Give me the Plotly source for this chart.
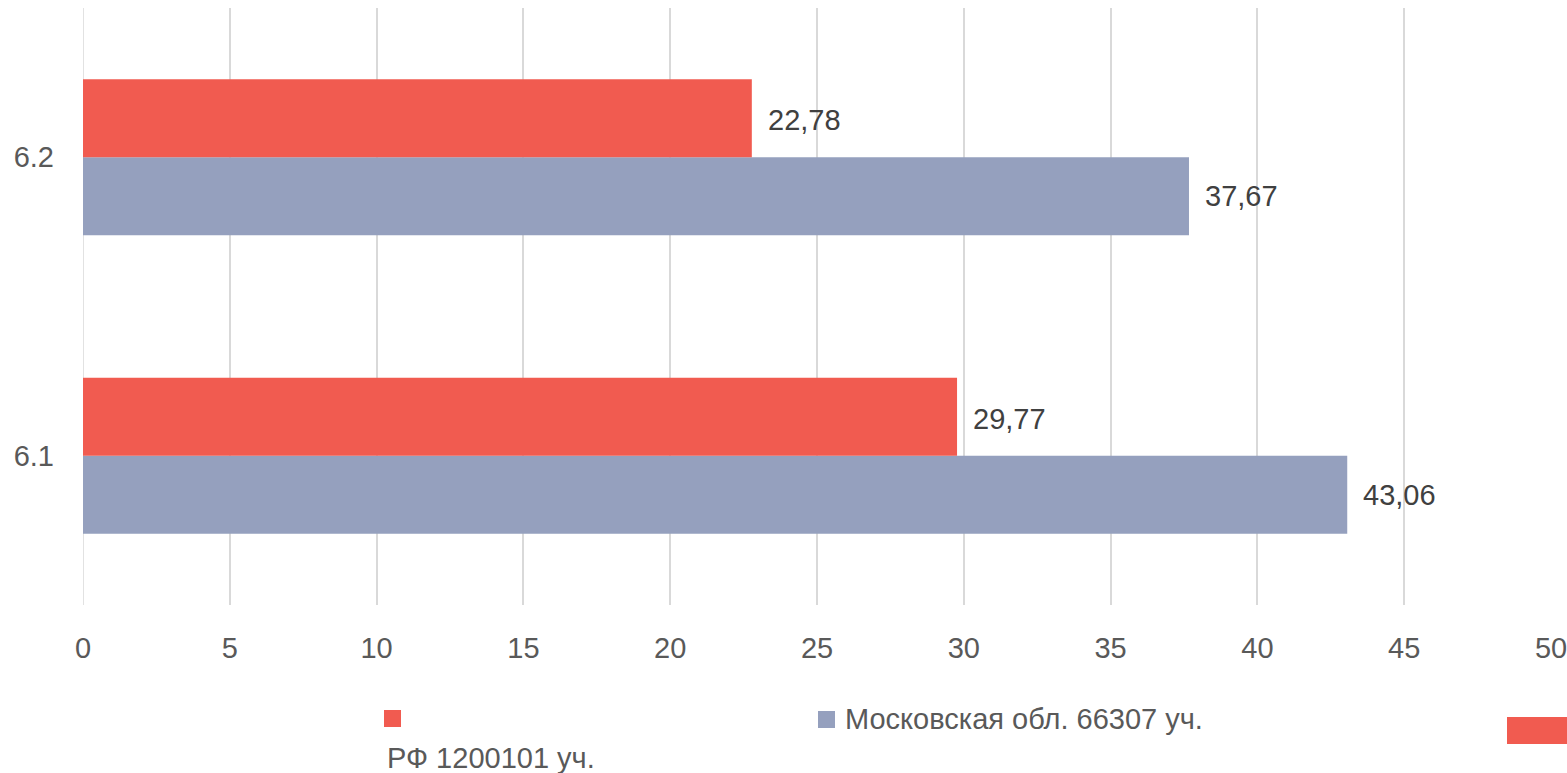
import plotly.graph_objects as go

categories = ["6.1", "6.2"]
rf_name = "РФ 1200101 уч."
mo_name = "Московская обл. 66307 уч."
rf_values = [29.77, 22.78]
mo_values = [43.06, 37.67]
x_ticks = [0, 5, 10, 15, 20, 25, 30, 35, 40, 45, 50]

RED = "#F15B50"
BLUE = "#95A0BE"
FONT = "Liberation Sans Narrow, Arial Narrow, sans-serif"

fig = go.Figure()
# first trace is drawn at the bottom of each group in horizontal mode
fig.add_trace(go.Bar(y=categories, x=mo_values, name=mo_name, orientation="h",
                     marker=dict(color=BLUE, line=dict(width=0)), showlegend=False))
fig.add_trace(go.Bar(y=categories, x=rf_values, name=rf_name, orientation="h",
                     marker=dict(color=RED, line=dict(width=0)), showlegend=False))

def fmt(v):
    return f"{v:.2f}".replace(".", ",")

annotations = []
for i, v in enumerate(rf_values):
    annotations.append(dict(x=v, y=i, xref="x", yref="y", text=fmt(v), showarrow=False,
                            xanchor="left", yanchor="middle", xshift=14, yshift=37,
                            font=dict(size=29, color="#404040", family=FONT)))
for i, v in enumerate(mo_values):
    annotations.append(dict(x=v, y=i, xref="x", yref="y", text=fmt(v), showarrow=False,
                            xanchor="left", yanchor="middle", xshift=14, yshift=-39,
                            font=dict(size=29, color="#404040", family=FONT)))

# plot area on screen: x 83..1551, y 8..605
def px(sx):
    return (sx - 83) / 1468

def py(sy):
    return (605 - sy) / 597

legend_font = dict(size=29, color="#595959", family=FONT)
annotations.append(dict(xref="paper", yref="paper", x=px(385), y=py(758),
                        text=rf_name, showarrow=False, xanchor="left", yanchor="middle", font=legend_font))
annotations.append(dict(xref="paper", yref="paper", x=px(843), y=py(719),
                        text=mo_name, showarrow=False, xanchor="left", yanchor="middle", font=legend_font))

shapes = [
    dict(type="rect", xref="paper", yref="paper", x0=px(384), x1=px(401),
         y0=py(727), y1=py(710), fillcolor=RED, line=dict(width=0)),
    dict(type="rect", xref="paper", yref="paper", x0=px(818), x1=px(835),
         y0=py(728), y1=py(711), fillcolor=BLUE, line=dict(width=0)),
    dict(type="rect", xref="paper", yref="paper", x0=px(1507), x1=px(1580),
         y0=py(744), y1=py(717), fillcolor=RED, line=dict(width=0)),
]

fig.update_layout(
    width=1567, height=773,
    margin=dict(l=83, r=16, t=8, b=168, autoexpand=False),
    paper_bgcolor="white", plot_bgcolor="white",
    barmode="group", bargap=0.477, bargroupgap=0,
    annotations=annotations, shapes=shapes,
    xaxis=dict(range=[0, 50], tickvals=x_ticks, showgrid=True, gridcolor="#D9D9D9", gridwidth=1.5,
               zeroline=False, showline=False, ticks="", ticklabelstandoff=23, automargin=False,
               ticklabeloverflow="allow",
               tickfont=dict(size=29, color="#595959", family=FONT)),
    yaxis=dict(type="category", categoryorder="array", categoryarray=categories, range=[-0.5, 1.5],
               showgrid=False, zeroline=False, showline=False, ticks="", ticklabelstandoff=28,
               automargin=False,
               tickfont=dict(size=29, color="#595959", family=FONT)),
)
fig.add_vline(x=0, line=dict(color="#D9D9D9", width=1.5), layer="below")

fig.write_html("out.html", config={"displayModeBar": False},
               post_script="document.body.style.margin='0';document.body.style.overflow='hidden';")
